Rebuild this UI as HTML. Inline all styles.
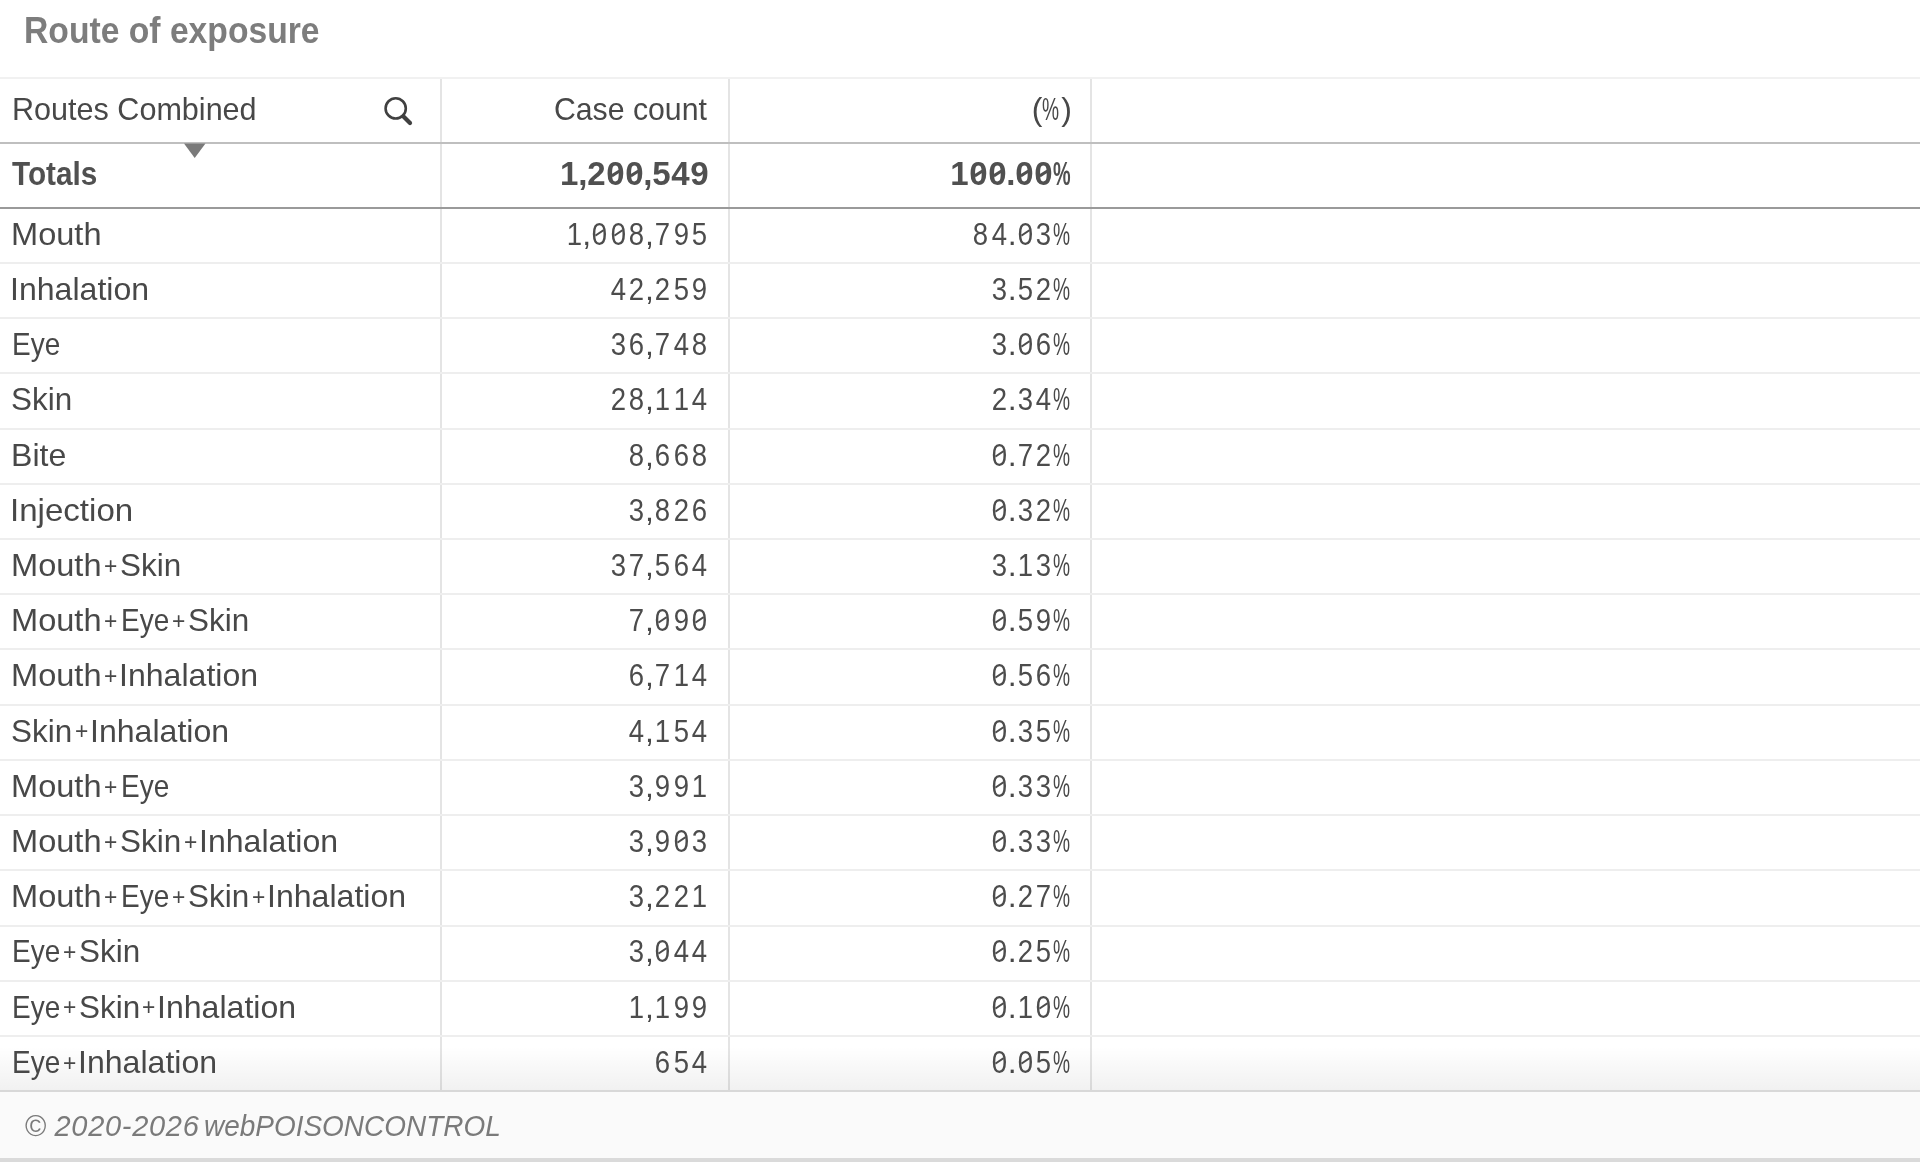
<!DOCTYPE html><html><head><meta charset="utf-8"><title>Route of exposure</title><style>
*{margin:0;padding:0;box-sizing:border-box}
html,body{width:1920px;height:1162px;overflow:hidden;background:#fff}
body{position:relative;will-change:transform;font-family:"Liberation Sans",sans-serif;color:#484848}
.a{position:absolute}
.t{position:absolute;white-space:nowrap;line-height:40px;font-size:32px}
.l{left:12px;transform-origin:0 50%}
.r2{right:1211px;text-align:right;transform-origin:100% 50%}
.r3{right:848px;text-align:right;transform-origin:100% 50%}
.hl{position:absolute;left:0;width:1920px}
.vl{position:absolute;width:2px;background:#e4e4e4}
.b{font-weight:bold}
.pc{display:inline-block;width:19px;text-align:left}
.pc i{display:inline-block;font-style:normal;transform:scaleX(.6);transform-origin:0 50%}
b{font-weight:inherit}
.d{display:inline-block;width:18.7px;text-align:center;transform:scaleX(.86);color:#4c4c4c}
.db{display:inline-block;width:19px;text-align:center}
.z{position:relative}
.d.z::after{content:"";position:absolute;left:4.2px;top:18.6px;width:10.6px;height:1.7px;background:currentColor;transform:rotate(-30deg)}
.db.z::after{content:"";position:absolute;left:5.2px;top:18.4px;width:9px;height:2.6px;background:currentColor;transform:rotate(-32deg)}
.c{margin:0 -1.05px}
.cb{margin:0 -0.5px}
.pl{font-size:24px;position:relative;top:-2px;margin:0 2.5px 0 3.9px}
</style></head><body>
<div class="t b" style="left:24px;top:8.1px;font-size:37px;line-height:46px;color:#7d7d7d;transform:scaleX(0.91);transform-origin:0 50%">Route of exposure</div>
<div class="vl" style="left:439.5px;top:79px;height:1011px"></div>
<div class="vl" style="left:727.5px;top:79px;height:1011px"></div>
<div class="vl" style="left:1090px;top:79px;height:1011px"></div>
<div class="hl" style="top:77px;height:2px;background:#f1f1f1"></div>
<div class="hl" style="top:142px;height:2px;background:#bfbfbf"></div>
<div class="hl" style="top:207px;height:2px;background:#9a9a9a"></div>
<div class="hl" style="top:262px;height:2px;background:#eeeeee"></div>
<div class="hl" style="top:317px;height:2px;background:#eeeeee"></div>
<div class="hl" style="top:372px;height:2px;background:#eeeeee"></div>
<div class="hl" style="top:428px;height:2px;background:#eeeeee"></div>
<div class="hl" style="top:483px;height:2px;background:#eeeeee"></div>
<div class="hl" style="top:538px;height:2px;background:#eeeeee"></div>
<div class="hl" style="top:593px;height:2px;background:#eeeeee"></div>
<div class="hl" style="top:648px;height:2px;background:#eeeeee"></div>
<div class="hl" style="top:704px;height:2px;background:#eeeeee"></div>
<div class="hl" style="top:759px;height:2px;background:#eeeeee"></div>
<div class="hl" style="top:814px;height:2px;background:#eeeeee"></div>
<div class="hl" style="top:869px;height:2px;background:#eeeeee"></div>
<div class="hl" style="top:925px;height:2px;background:#eeeeee"></div>
<div class="hl" style="top:980px;height:2px;background:#eeeeee"></div>
<div class="hl" style="top:1035px;height:2px;background:#eeeeee"></div>
<div class="hl" style="top:1046px;height:44px;background:linear-gradient(rgba(0,0,0,0),rgba(0,0,0,.055))"></div>
<div class="hl" style="top:1090px;height:2px;background:#d8d8d8"></div>
<div class="hl" style="top:1092px;height:66px;background:#fafafa"></div>
<div class="hl" style="top:1158px;height:4px;background:#dadada"></div>
<div class="t l" style="top:89.1px;transform:scaleX(0.955)">Routes Combined</div>
<div class="t r2" style="top:89.1px;right:1213px;transform:scaleX(0.945)">Case count</div>
<div class="t r3" style="top:89.1px">(<span class="pc"><i>%</i></span>)</div>
<svg class="a" style="left:380px;top:92px" width="36" height="36" viewBox="0 0 36 36"><circle cx="15.7" cy="16.4" r="10.1" fill="none" stroke="#404040" stroke-width="2.6"/><line x1="23.5" y1="24.5" x2="30" y2="31" stroke="#404040" stroke-width="4.2" stroke-linecap="round"/></svg>
<svg class="a" style="left:183px;top:143px" width="24" height="16" viewBox="0 0 24 16"><polygon points="1,0.5 22.5,0.5 11.7,15" fill="#7a7a7a"/></svg>
<div class="t l b" style="top:153.6px;font-size:33px;color:#505050;transform:scaleX(0.90)">Totals</div>
<div class="t r2 b" style="top:153.6px;font-size:33px;color:#505050;right:1211px"><b class="db">1</b><b class="cb">,</b><b class="db">2</b><b class="db z">0</b><b class="db z">0</b><b class="cb">,</b><b class="db">5</b><b class="db">4</b><b class="db">9</b></div>
<div class="t r3 b" style="top:153.6px;font-size:33px;color:#505050"><b class="db">1</b><b class="db z">0</b><b class="db z">0</b><b class="cb">.</b><b class="db z">0</b><b class="db z">0</b><span class="pc"><i>%</i></span></div>
<div class="t" style="left:11.15px;top:213.7px;transform:scaleX(1.0179);transform-origin:0 50%">Mouth</div>
<div class="t r2" style="top:213.7px"><b class="d">1</b><b class="c">,</b><b class="d z">0</b><b class="d z">0</b><b class="d">8</b><b class="c">,</b><b class="d">7</b><b class="d">9</b><b class="d">5</b></div>
<div class="t r3" style="top:213.7px"><b class="d">8</b><b class="d">4</b><b class="c">.</b><b class="d z">0</b><b class="d">3</b><span class="pc"><i>%</i></span></div>
<div class="t" style="left:10.29px;top:268.9px;transform:scaleX(1.0022);transform-origin:0 50%">Inhalation</div>
<div class="t r2" style="top:268.9px"><b class="d">4</b><b class="d">2</b><b class="c">,</b><b class="d">2</b><b class="d">5</b><b class="d">9</b></div>
<div class="t r3" style="top:268.9px"><b class="d">3</b><b class="c">.</b><b class="d">5</b><b class="d">2</b><span class="pc"><i>%</i></span></div>
<div class="t" style="left:11.58px;top:324.1px;transform:scaleX(0.8745);transform-origin:0 50%">Eye</div>
<div class="t r2" style="top:324.1px"><b class="d">3</b><b class="d">6</b><b class="c">,</b><b class="d">7</b><b class="d">4</b><b class="d">8</b></div>
<div class="t r3" style="top:324.1px"><b class="d">3</b><b class="c">.</b><b class="d z">0</b><b class="d">6</b><span class="pc"><i>%</i></span></div>
<div class="t" style="left:11.33px;top:379.3px;transform:scaleX(0.9828);transform-origin:0 50%">Skin</div>
<div class="t r2" style="top:379.3px"><b class="d">2</b><b class="d">8</b><b class="c">,</b><b class="d">1</b><b class="d">1</b><b class="d">4</b></div>
<div class="t r3" style="top:379.3px"><b class="d">2</b><b class="c">.</b><b class="d">3</b><b class="d">4</b><span class="pc"><i>%</i></span></div>
<div class="t" style="left:11.19px;top:434.5px;transform:scaleX(1.0020);transform-origin:0 50%">Bite</div>
<div class="t r2" style="top:434.5px"><b class="d">8</b><b class="c">,</b><b class="d">6</b><b class="d">6</b><b class="d">8</b></div>
<div class="t r3" style="top:434.5px"><b class="d z">0</b><b class="c">.</b><b class="d">7</b><b class="d">2</b><span class="pc"><i>%</i></span></div>
<div class="t" style="left:10.20px;top:489.7px;transform:scaleX(1.0333);transform-origin:0 50%">Injection</div>
<div class="t r2" style="top:489.7px"><b class="d">3</b><b class="c">,</b><b class="d">8</b><b class="d">2</b><b class="d">6</b></div>
<div class="t r3" style="top:489.7px"><b class="d z">0</b><b class="c">.</b><b class="d">3</b><b class="d">2</b><span class="pc"><i>%</i></span></div>
<div class="t" style="left:11.15px;top:544.9px;transform:scaleX(1.0179);transform-origin:0 50%">Mouth</div>
<div class="t" style="left:104.25px;top:545.7px;font-size:24px;transform:scaleX(0.95);transform-origin:0 50%">+</div>
<div class="t" style="left:120.33px;top:544.9px;transform:scaleX(0.9828);transform-origin:0 50%">Skin</div>
<div class="t r2" style="top:544.9px"><b class="d">3</b><b class="d">7</b><b class="c">,</b><b class="d">5</b><b class="d">6</b><b class="d">4</b></div>
<div class="t r3" style="top:544.9px"><b class="d">3</b><b class="c">.</b><b class="d">1</b><b class="d">3</b><span class="pc"><i>%</i></span></div>
<div class="t" style="left:11.15px;top:600.1px;transform:scaleX(1.0179);transform-origin:0 50%">Mouth</div>
<div class="t" style="left:104.25px;top:600.9px;font-size:24px;transform:scaleX(0.95);transform-origin:0 50%">+</div>
<div class="t" style="left:120.78px;top:600.1px;transform:scaleX(0.8745);transform-origin:0 50%">Eye</div>
<div class="t" style="left:172.05px;top:600.9px;font-size:24px;transform:scaleX(0.95);transform-origin:0 50%">+</div>
<div class="t" style="left:188.13px;top:600.1px;transform:scaleX(0.9828);transform-origin:0 50%">Skin</div>
<div class="t r2" style="top:600.1px"><b class="d">7</b><b class="c">,</b><b class="d z">0</b><b class="d">9</b><b class="d z">0</b></div>
<div class="t r3" style="top:600.1px"><b class="d z">0</b><b class="c">.</b><b class="d">5</b><b class="d">9</b><span class="pc"><i>%</i></span></div>
<div class="t" style="left:11.15px;top:655.3px;transform:scaleX(1.0179);transform-origin:0 50%">Mouth</div>
<div class="t" style="left:104.25px;top:656.1px;font-size:24px;transform:scaleX(0.95);transform-origin:0 50%">+</div>
<div class="t" style="left:119.19px;top:655.3px;transform:scaleX(1.0022);transform-origin:0 50%">Inhalation</div>
<div class="t r2" style="top:655.3px"><b class="d">6</b><b class="c">,</b><b class="d">7</b><b class="d">1</b><b class="d">4</b></div>
<div class="t r3" style="top:655.3px"><b class="d z">0</b><b class="c">.</b><b class="d">5</b><b class="d">6</b><span class="pc"><i>%</i></span></div>
<div class="t" style="left:11.33px;top:710.5px;transform:scaleX(0.9828);transform-origin:0 50%">Skin</div>
<div class="t" style="left:74.85px;top:711.3px;font-size:24px;transform:scaleX(0.95);transform-origin:0 50%">+</div>
<div class="t" style="left:89.79px;top:710.5px;transform:scaleX(1.0022);transform-origin:0 50%">Inhalation</div>
<div class="t r2" style="top:710.5px"><b class="d">4</b><b class="c">,</b><b class="d">1</b><b class="d">5</b><b class="d">4</b></div>
<div class="t r3" style="top:710.5px"><b class="d z">0</b><b class="c">.</b><b class="d">3</b><b class="d">5</b><span class="pc"><i>%</i></span></div>
<div class="t" style="left:11.15px;top:765.7px;transform:scaleX(1.0179);transform-origin:0 50%">Mouth</div>
<div class="t" style="left:104.25px;top:766.5px;font-size:24px;transform:scaleX(0.95);transform-origin:0 50%">+</div>
<div class="t" style="left:120.78px;top:765.7px;transform:scaleX(0.8745);transform-origin:0 50%">Eye</div>
<div class="t r2" style="top:765.7px"><b class="d">3</b><b class="c">,</b><b class="d">9</b><b class="d">9</b><b class="d">1</b></div>
<div class="t r3" style="top:765.7px"><b class="d z">0</b><b class="c">.</b><b class="d">3</b><b class="d">3</b><span class="pc"><i>%</i></span></div>
<div class="t" style="left:11.15px;top:820.9px;transform:scaleX(1.0179);transform-origin:0 50%">Mouth</div>
<div class="t" style="left:104.25px;top:821.7px;font-size:24px;transform:scaleX(0.95);transform-origin:0 50%">+</div>
<div class="t" style="left:120.33px;top:820.9px;transform:scaleX(0.9828);transform-origin:0 50%">Skin</div>
<div class="t" style="left:183.85px;top:821.7px;font-size:24px;transform:scaleX(0.95);transform-origin:0 50%">+</div>
<div class="t" style="left:198.79px;top:820.9px;transform:scaleX(1.0022);transform-origin:0 50%">Inhalation</div>
<div class="t r2" style="top:820.9px"><b class="d">3</b><b class="c">,</b><b class="d">9</b><b class="d z">0</b><b class="d">3</b></div>
<div class="t r3" style="top:820.9px"><b class="d z">0</b><b class="c">.</b><b class="d">3</b><b class="d">3</b><span class="pc"><i>%</i></span></div>
<div class="t" style="left:11.15px;top:876.1px;transform:scaleX(1.0179);transform-origin:0 50%">Mouth</div>
<div class="t" style="left:104.25px;top:876.9px;font-size:24px;transform:scaleX(0.95);transform-origin:0 50%">+</div>
<div class="t" style="left:120.78px;top:876.1px;transform:scaleX(0.8745);transform-origin:0 50%">Eye</div>
<div class="t" style="left:172.05px;top:876.9px;font-size:24px;transform:scaleX(0.95);transform-origin:0 50%">+</div>
<div class="t" style="left:188.13px;top:876.1px;transform:scaleX(0.9828);transform-origin:0 50%">Skin</div>
<div class="t" style="left:251.65px;top:876.9px;font-size:24px;transform:scaleX(0.95);transform-origin:0 50%">+</div>
<div class="t" style="left:266.59px;top:876.1px;transform:scaleX(1.0022);transform-origin:0 50%">Inhalation</div>
<div class="t r2" style="top:876.1px"><b class="d">3</b><b class="c">,</b><b class="d">2</b><b class="d">2</b><b class="d">1</b></div>
<div class="t r3" style="top:876.1px"><b class="d z">0</b><b class="c">.</b><b class="d">2</b><b class="d">7</b><span class="pc"><i>%</i></span></div>
<div class="t" style="left:11.58px;top:931.3px;transform:scaleX(0.8745);transform-origin:0 50%">Eye</div>
<div class="t" style="left:62.85px;top:932.1px;font-size:24px;transform:scaleX(0.95);transform-origin:0 50%">+</div>
<div class="t" style="left:78.93px;top:931.3px;transform:scaleX(0.9828);transform-origin:0 50%">Skin</div>
<div class="t r2" style="top:931.3px"><b class="d">3</b><b class="c">,</b><b class="d z">0</b><b class="d">4</b><b class="d">4</b></div>
<div class="t r3" style="top:931.3px"><b class="d z">0</b><b class="c">.</b><b class="d">2</b><b class="d">5</b><span class="pc"><i>%</i></span></div>
<div class="t" style="left:11.58px;top:986.5px;transform:scaleX(0.8745);transform-origin:0 50%">Eye</div>
<div class="t" style="left:62.85px;top:987.3px;font-size:24px;transform:scaleX(0.95);transform-origin:0 50%">+</div>
<div class="t" style="left:78.93px;top:986.5px;transform:scaleX(0.9828);transform-origin:0 50%">Skin</div>
<div class="t" style="left:142.45px;top:987.3px;font-size:24px;transform:scaleX(0.95);transform-origin:0 50%">+</div>
<div class="t" style="left:157.39px;top:986.5px;transform:scaleX(1.0022);transform-origin:0 50%">Inhalation</div>
<div class="t r2" style="top:986.5px"><b class="d">1</b><b class="c">,</b><b class="d">1</b><b class="d">9</b><b class="d">9</b></div>
<div class="t r3" style="top:986.5px"><b class="d z">0</b><b class="c">.</b><b class="d">1</b><b class="d z">0</b><span class="pc"><i>%</i></span></div>
<div class="t" style="left:11.58px;top:1041.7px;transform:scaleX(0.8745);transform-origin:0 50%">Eye</div>
<div class="t" style="left:62.85px;top:1042.5px;font-size:24px;transform:scaleX(0.95);transform-origin:0 50%">+</div>
<div class="t" style="left:77.79px;top:1041.7px;transform:scaleX(1.0022);transform-origin:0 50%">Inhalation</div>
<div class="t r2" style="top:1041.7px"><b class="d">6</b><b class="d">5</b><b class="d">4</b></div>
<div class="t r3" style="top:1041.7px"><b class="d z">0</b><b class="c">.</b><b class="d z">0</b><b class="d">5</b><span class="pc"><i>%</i></span></div>
<div class="t" style="left:25px;top:1106.0px;font-size:29px;color:#7a7a7a">&copy;</div>
<div class="t" style="left:54.5px;top:1106.0px;font-size:29px;color:#7a7a7a;font-style:italic;letter-spacing:0.7px">2020-2026</div>
<div class="t" style="left:204px;top:1106.0px;font-size:29px;color:#7a7a7a;font-style:italic;transform:scaleX(0.964);transform-origin:0 50%">webPOISONCONTROL</div>
</body></html>
